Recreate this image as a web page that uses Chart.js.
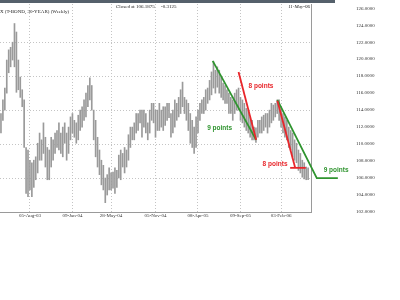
<!DOCTYPE html>
<html lang="en">
<head>
  <meta charset="utf-8"/>
  <title>T-Bond 30-year weekly</title>
  <script src="https://cdn.jsdelivr.net/npm/chart.js"></script>
  <style>
    html, body { margin: 0; padding: 0; background: #fff; }
    canvas { display: block; }
  </style>
</head>
<body>
  <canvas id="bondChart" width="400" height="300"></canvas>

  <script>
    // ── DATA ───────────────────────────────────────────
    // weekly high / low, one entry per week (week 0 = late Apr-03)
    const highs = [
      113.6,115.2,116.6,119.9,121.1,121.4,122.0,124.2,123.2,119.9,
      117.9,116.4,115.2,109.6,109.3,108.1,107.8,108.1,108.5,110.1,
      111.3,110.5,112.5,110.8,109.6,109.3,110.8,110.5,111.3,111.6,
      112.5,111.3,112.0,112.5,111.3,112.0,113.2,113.6,112.8,112.5,
      113.4,114.0,114.4,115.2,116.0,116.9,117.8,116.9,114.0,112.8,
      110.8,109.3,108.1,107.5,106.0,106.4,107.2,106.6,106.7,107.2,
      106.9,108.7,109.3,108.9,109.6,109.3,111.1,112.0,112.0,112.5,
      113.6,113.6,114.0,114.0,114.0,113.6,112.5,114.0,114.8,114.8,
      114.0,114.0,114.8,114.0,114.4,114.4,114.8,114.8,113.6,114.0,
      115.2,114.8,115.5,116.4,117.3,115.5,115.2,114.8,113.6,112.8,
      112.0,113.2,114.0,114.8,115.2,115.5,116.4,116.6,117.5,118.5,
      119.7,118.7,119.1,118.7,117.9,117.2,116.9,116.4,116.0,115.5,
      115.2,116.0,116.4,116.6,115.5,115.2,114.8,114.2,114.0,113.2,
      112.8,112.0,111.9,112.8,112.8,113.2,113.4,113.6,113.6,114.0,
      114.8,114.6,114.8,115.2,115.2,114.4,113.6,113.2,112.8,112.0,
      111.6,111.3,110.5,110.1,109.3,108.9,108.1,107.8,107.3,107.2
    ];
    const lows = [
      111.3,112.8,114.0,116.0,118.4,119.1,119.9,119.1,116.1,116.4,
      115.5,114.4,109.6,104.2,103.8,104.6,103.8,104.9,105.8,106.6,
      108.1,108.1,108.9,107.3,105.8,105.8,107.3,108.1,108.9,109.6,
      109.3,108.9,108.5,110.1,108.1,108.9,110.5,111.3,110.8,110.1,
      110.5,111.6,112.0,112.8,113.2,114.4,115.2,114.0,110.5,108.5,
      107.3,106.4,105.2,104.6,103.1,104.0,104.6,104.6,104.8,104.2,
      104.9,106.0,105.8,107.3,106.6,107.3,108.1,109.6,110.5,110.5,
      111.3,111.6,112.5,110.8,112.0,111.3,110.5,111.3,112.8,112.5,
      110.8,111.6,111.6,112.0,111.6,112.2,112.8,113.1,110.8,111.3,
      112.0,112.8,113.2,113.6,114.4,113.6,112.8,111.6,110.1,109.6,
      108.9,109.6,111.3,112.8,113.6,113.6,114.0,114.8,115.2,115.8,
      116.6,116.0,116.7,116.0,115.5,115.2,114.8,114.8,113.6,113.6,
      112.8,113.6,114.0,114.0,112.8,112.5,112.0,111.6,111.3,110.8,
      110.5,110.5,110.2,110.8,111.3,111.3,111.6,112.0,111.3,112.0,
      112.5,112.8,113.2,113.6,112.8,112.0,111.3,110.8,110.5,109.6,
      109.3,108.5,108.1,107.8,106.9,106.6,106.1,105.9,105.8,105.8
    ];

    // x-axis date ticks (week index -> label)
    const dateTickWeeks  = [15, 37, 57, 80, 102, 124, 145];
    const dateTickLabels = ['05-Aug-03', '09-Jan-04', '28-May-04', '05-Nov-04', '08-Apr-05', '09-Sep-05', '03-Feb-06'];
    const priceTicks = [102, 104, 106, 108, 110, 112, 114, 116, 118, 120, 122, 124, 126];
    const priceGrid  = [106, 110, 114, 118, 122];

    // hand-drawn trend lines, [week, price]
    const greenLineA = [[109.6, 119.8], [132.1, 110.5]];
    const redLineA   = [[123.0, 118.5], [132.1, 110.5]];
    const greenLineB = [[143.1, 115.2], [163.5, 106.0], [174.4, 106.0]];
    const redLineB   = [[143.1, 115.1], [152.3, 107.2]];
    const redFloor   = [[149.7, 107.2], [157.8, 107.2]];
    const noteText   = ['9 points', '8 points', '8 points', '9 points'];
    const noteWeek   = [113.2, 134.6, 141.9, 173.5];
    const notePrice  = [111.9, 116.8, 107.6, 106.9];
    // ──────────────────────────────────────────────────

    const GREEN = '#2f942f';
    const RED = '#e8262b';
    const noteColor = [GREEN, RED, RED, GREEN];

    const bars = highs.map((h, i) => ({ x: i, y: [lows[i], h] }));

    const overlay = {
      id: 'overlay',
      afterDatasetsDraw(chart) {
        const { ctx, scales: { x, y } } = chart;
        ctx.save();
        const seg = (pts, color) => {
          ctx.beginPath();
          pts.forEach((p, i) => {
            const px = x.getPixelForValue(p[0]), py = y.getPixelForValue(p[1]);
            i ? ctx.lineTo(px, py) : ctx.moveTo(px, py);
          });
          ctx.strokeStyle = color;
          ctx.lineWidth = 1.8;
          ctx.stroke();
        };
        seg(greenLineA, GREEN);
        seg(redLineA, RED);
        seg(greenLineB, GREEN);
        seg(redLineB, RED);
        seg(redFloor, RED);

        ctx.font = 'bold 6.5px "Liberation Sans", Arial, sans-serif';
        ctx.textAlign = 'center';
        ctx.textBaseline = 'middle';
        noteText.forEach((t, i) => {
          ctx.fillStyle = noteColor[i];
          ctx.fillText(t, x.getPixelForValue(noteWeek[i]), y.getPixelForValue(notePrice[i]));
        });

        // header strip and captions
        ctx.fillStyle = '#55606b';
        ctx.fillRect(0, 0, 335, 3);
        ctx.fillStyle = '#222';
        ctx.font = '5px "Liberation Serif", serif';
        ctx.textAlign = 'left';
        ctx.fillText('X (T-BOND, 30-YEAR) (Weekly)', 0, 12);
        ctx.fillText('Closed at 106.1875     -0.3125', 116, 6.5);
        ctx.textAlign = 'right';
        ctx.font = 'italic 5px "Liberation Serif", serif';
        ctx.fillText('11-May-06', 310, 6.5);
        ctx.restore();
      }
    };

    new Chart(document.getElementById('bondChart'), {
      type: 'bar',
      data: {
        datasets: [{
          data: bars,
          backgroundColor: '#9a9a9a',
          barThickness: 1,
          borderSkipped: false
        }]
      },
      options: {
        responsive: false,
        animation: false,
        layout: { padding: { top: 4, left: 0, right: 0, bottom: 0 } },
        plugins: { legend: { display: false }, tooltip: { enabled: false } },
        scales: {
          x: {
            type: 'linear',
            offset: false,
            min: -0.5,
            max: 160.5,
            afterBuildTicks: s => { s.ticks = dateTickWeeks.map(v => ({ value: v })); },
            afterFit: s => { s.height = 88; },
            ticks: {
              autoSkip: false,
              maxRotation: 0,
              padding: 1,
              color: '#333',
              font: { family: '"Liberation Serif", serif', size: 5 },
              callback: v => dateTickLabels[dateTickWeeks.indexOf(v)]
            },
            grid: { offset: false, color: '#c4c4c4', drawTicks: false, tickLength: 0 },
            border: { display: true, color: '#9a9a9a', width: 1, dash: [1, 2] }
          },
          y: {
            position: 'right',
            min: 102,
            max: 126.5,
            afterBuildTicks: s => { s.ticks = priceTicks.map(v => ({ value: v })); },
            afterFit: s => { s.width = 89; s.paddingTop = 0; s.paddingBottom = 0; },
            ticks: {
              padding: 45,
              color: '#333',
              font: { family: '"Liberation Serif", serif', size: 5 },
              callback: v => v.toFixed(4)
            },
            grid: {
              color: c => priceGrid.includes(c.tick && c.tick.value) ? '#c4c4c4' : 'rgba(0,0,0,0)',
              drawTicks: false,
              tickLength: 0
            },
            border: { display: true, color: '#9a9a9a', width: 1, dash: [1, 2] }
          }
        }
      },
      plugins: [overlay]
    });
  </script>
</body>
</html>
